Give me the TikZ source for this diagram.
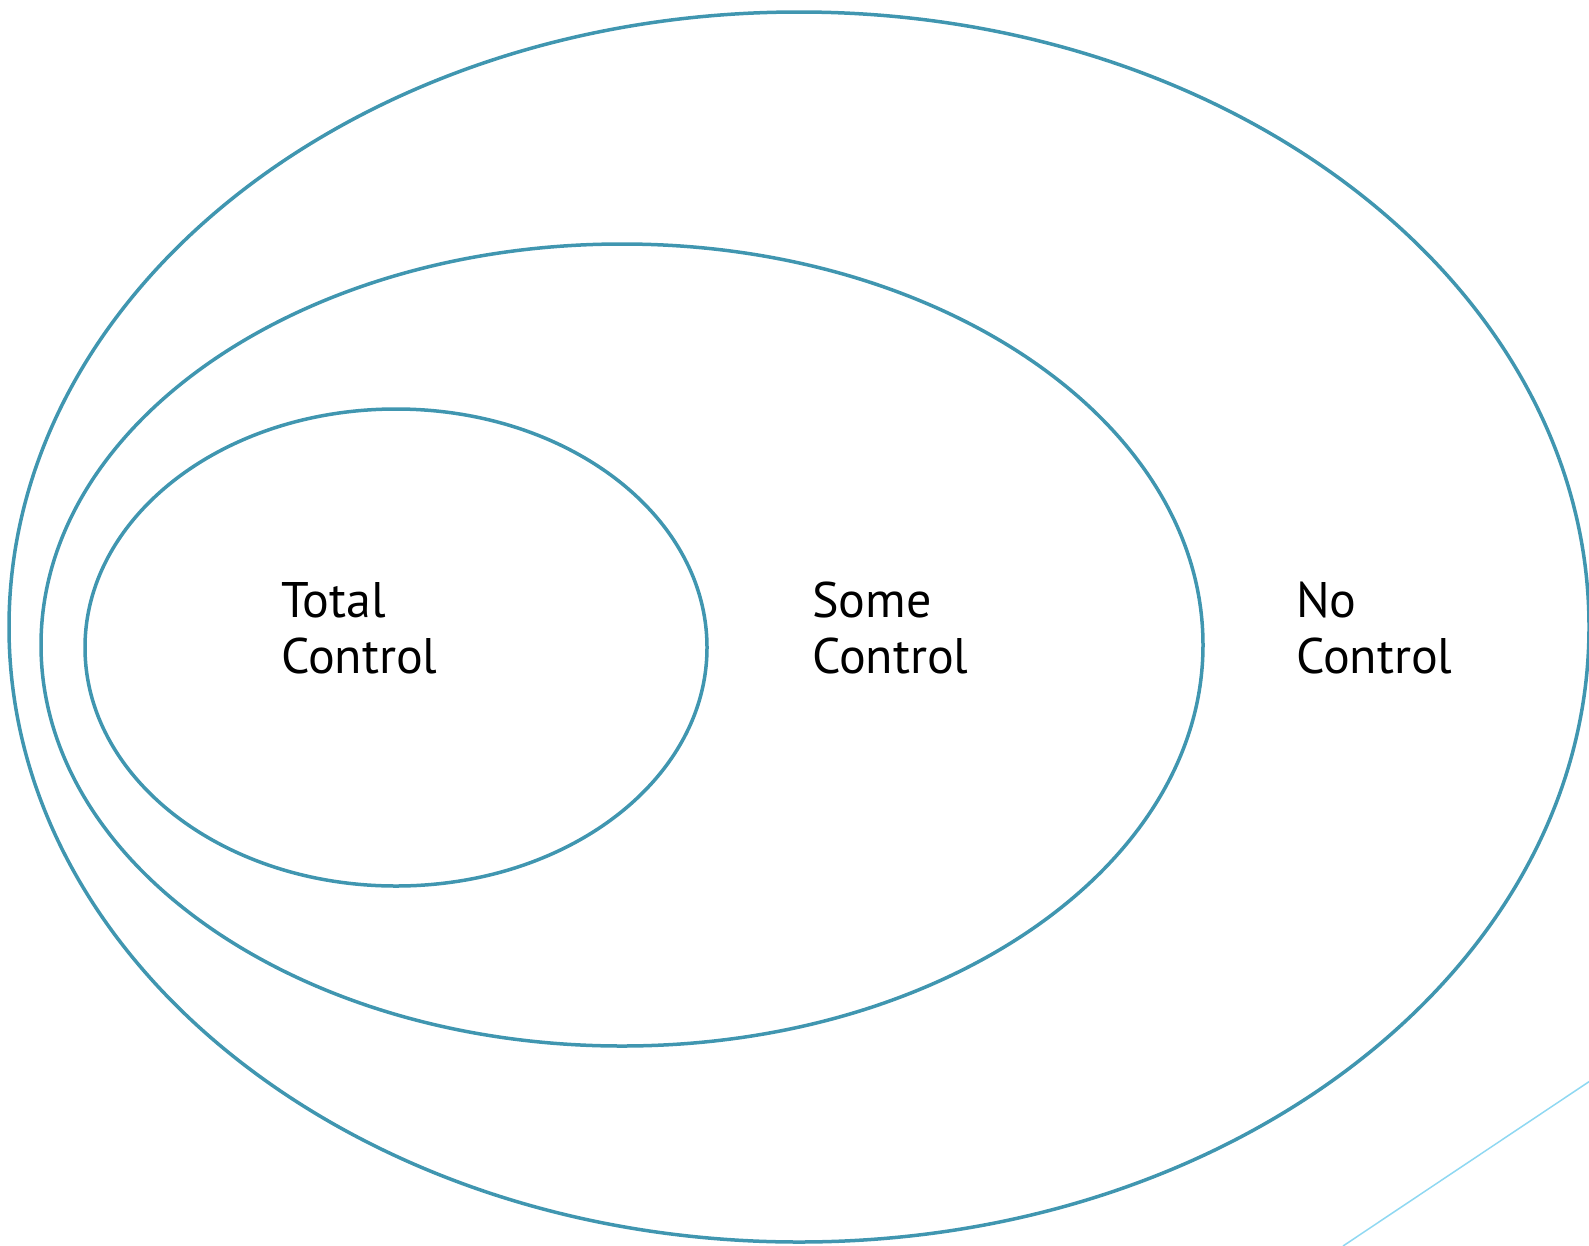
\documentclass[tikz,border=0pt]{standalone}
\usepackage{fontspec}
\setmainfont{PT Sans}
\definecolor{ringblue}{HTML}{4096B0}
\definecolor{lineblue}{HTML}{8FD8F2}
\tikzset{
  ring/.style={draw=ringblue, line width=3.5pt},
  lbl/.style={anchor=base west, inner sep=0pt, font=\fontsize{50}{56}\selectfont},
}
\begin{document}
\begin{tikzpicture}[x=1pt,y=-1pt]
\useasboundingbox (0,0) rectangle (1589,1245);
\draw[ring] (799,627) ellipse [x radius=790, y radius=615];
\draw[ring] (622,645) ellipse [x radius=581, y radius=401];
\draw[ring] (396,647.5) ellipse [x radius=311, y radius=238.5];
\coordinate (la) at (1343,1246);
\coordinate (lb) at (1590,1081);
\draw[lineblue, line width=1.5pt] (la) -- (lb);
\node[lbl] (t1) at (281,617) {Total};
\node[lbl] (t2) at (281,673) {Control};
\node[lbl] (s1) at (812,617) {Some};
\node[lbl] (s2) at (812,673) {Control};
\node[lbl] (n1) at (1296,617) {No};
\node[lbl] (n2) at (1296,673) {Control};
\end{tikzpicture}
\end{document}
